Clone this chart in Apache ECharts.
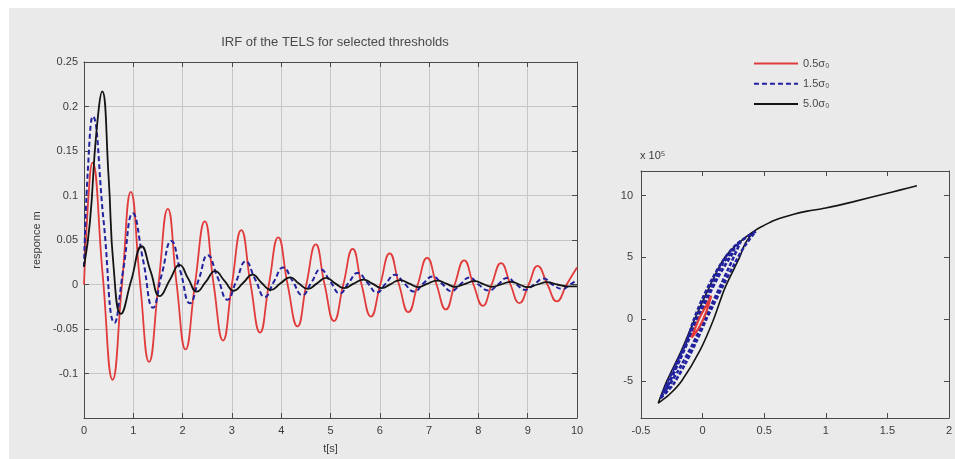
<!DOCTYPE html>
<html>
<head>
<meta charset="utf-8">
<title>IRF of the TELS</title>
<script src="https://cdn.jsdelivr.net/npm/echarts@6/dist/echarts.min.js"></script>
<style>
  html, body { margin: 0; padding: 0; background: #fff; }
  #chart { width: 955px; height: 459px; }
</style>
</head>
<body>
<div id="chart"></div>
<script>
"use strict";

// series names (legend)
var seriesNames = ['0.5σ₀', '1.5σ₀', '5.0σ₀'];

// left plot: impulse response [t, response]
var irfRed = [
	[0, 0.0], [0.08, 0.09], [0.17, 0.137], [0.38, 0.01], [0.58, -0.107], [0.77, 0.0], [0.95, 0.104],
	[1.14, 0.0], [1.32, -0.087], [1.51, 0.0], [1.70, 0.085], [1.88, 0.0], [2.06, -0.073],
	[2.25, 0.0], [2.45, 0.071], [2.63, 0.0], [2.82, -0.063], [3.0, 0.0], [3.19, 0.061],
	[3.38, 0.0], [3.57, -0.054], [3.75, 0.0], [3.94, 0.053], [4.13, 0.0], [4.33, -0.047],
	[4.51, 0.0], [4.70, 0.045], [4.88, 0.0], [5.07, -0.041], [5.26, 0.0], [5.45, 0.040],
	[5.63, 0.0], [5.82, -0.036], [6.01, 0.0], [6.20, 0.035], [6.39, 0.0], [6.58, -0.031],
	[6.77, 0.0], [6.96, 0.030], [7.15, 0.0], [7.34, -0.028], [7.52, 0.0], [7.71, 0.027],
	[7.90, 0.0], [8.09, -0.024], [8.27, 0.0], [8.46, 0.024], [8.65, 0.0], [8.83, -0.021],
	[9.02, 0.0], [9.20, 0.021], [9.40, 0.0], [9.59, -0.019], [9.79, 0.0], [10.0, 0.019]
];
var irfBlue = [
	[0, 0.02], [0.08, 0.13], [0.18, 0.189], [0.40, 0.07], [0.62, -0.043], [0.80, 0.018], [0.99, 0.080],
	[1.20, 0.027], [1.40, -0.026], [1.58, 0.012], [1.77, 0.049], [1.96, 0.014], [2.15, -0.021],
	[2.33, 0.006], [2.51, 0.033], [2.71, 0.008], [2.91, -0.017], [3.09, 0.004], [3.28, 0.026],
	[3.47, 0.006], [3.67, -0.014], [3.85, 0.003], [4.04, 0.019], [4.23, 0.004], [4.43, -0.012],
	[4.61, 0.002], [4.80, 0.017], [5.0, 0.003], [5.19, -0.010], [5.37, 0.002], [5.55, 0.013],
	[5.75, 0.002], [5.94, -0.009], [6.12, 0.001], [6.31, 0.011], [6.50, 0.001], [6.70, -0.008],
	[6.88, 0.001], [7.07, 0.009], [7.26, 0.001], [7.45, -0.0075], [7.63, 0.0], [7.82, 0.008],
	[8.0, 0.0], [8.21, -0.0067], [8.40, 0.0], [8.58, 0.0074], [8.77, 0.0], [8.95, -0.006],
	[9.13, 0.0], [9.32, 0.0067], [9.50, 0.0], [9.71, -0.005], [9.86, 0.0], [10.0, 0.005]
];
var irfBlack = [
	[0, 0.02], [0.12, 0.07], [0.25, 0.17], [0.37, 0.217], [0.50, 0.12], [0.60, 0.02], [0.75, -0.033],
	[0.96, 0.005], [1.17, 0.043], [1.35, 0.015], [1.54, -0.013], [1.74, 0.005], [1.94, 0.022],
	[2.11, 0.007], [2.29, -0.008], [2.47, 0.003], [2.66, 0.015], [2.85, 0.004], [3.04, -0.007],
	[3.23, 0.002], [3.42, 0.011], [3.60, 0.002], [3.79, -0.006], [3.98, 0.001], [4.18, 0.008],
	[4.36, 0.001], [4.54, -0.005], [4.72, 0.001], [4.91, 0.0074], [5.10, 0.001], [5.28, -0.004],
	[5.47, 0.001], [5.67, 0.0055], [5.85, 0.001], [6.04, -0.004], [6.22, 0.0005], [6.41, 0.005],
	[6.60, 0.001], [6.78, -0.003], [6.97, 0.001], [7.16, 0.0044], [7.35, 0.001], [7.53, -0.0026],
	[7.72, 0.0005], [7.92, 0.0037], [8.10, 0.0005], [8.27, -0.0026], [8.46, 0.0], [8.66, 0.003],
	[8.83, 0.0], [9.0, -0.003], [9.20, 0.0], [9.39, 0.0026], [9.60, 0.0], [9.80, -0.002], [10.0, -0.002]
];

// right plot: hysteresis loops [x, y (x 10^5)]
var loopBlack = [
	[1.74, 10.8], [1.6, 10.45], [1.5, 10.2], [1.22, 9.5], [1.0, 9.0], [0.85, 8.75], [0.74, 8.5],
	[0.58, 8.0], [0.5, 7.6], [0.43, 7.2], [0.35, 6.2], [0.30, 5.0], [0.18, 2.5], [0.09, 0.0],
	[-0.02, -2.5], [-0.17, -5.0], [-0.27, -6.1], [-0.36, -6.8], [-0.33, -6.0], [-0.29, -5.0],
	[-0.17, -2.5], [-0.064, 0.0], [0.05, 2.5], [0.18, 5.0], [0.32, 6.4], [0.43, 7.2]
];
var loopBlue = [
	[-0.34, -6.4], [-0.28, -5.0], [-0.21, -3.5], [-0.13, -1.8], [-0.07, 0.0], [0.0, 1.7], [0.08, 3.3],
	[0.17, 4.8], [0.28, 6.1], [0.43, 7.1], [0.34, 5.9], [0.26, 4.5], [0.17, 2.8], [0.08, 1.0],
	[0.03, 0.0], [-0.05, -1.8], [-0.14, -3.6], [-0.24, -5.3], [-0.34, -6.4], [-0.25, -4.6],
	[-0.11, -1.4], [0.03, 1.8], [0.17, 4.6], [0.31, 6.3], [0.21, 4.1], [0.06, 0.9], [-0.09, -2.2],
	[-0.20, -4.2], [-0.30, -5.8], [-0.18, -3.2], [-0.03, 0.2], [0.12, 3.3], [0.26, 5.6]
];
var loopRed = [
	[-0.09, -1.5], [-0.03, 0.0], [0.04, 1.3], [0.07, 1.9], [0.03, 0.6], [-0.03, -0.7], [-0.09, -1.5]
];

// tick labels of the right plot's y axis
var loopYTicks = [-5, 0, 5, 10];

var chartColors = ['#e23b3b', '#22229e', '#141414'];
var labelFont = "'Liberation Sans', Arial, sans-serif";

var myChart = echarts.init(document.getElementById('chart'), null, { renderer: 'canvas' });

function boxAxis(gridIndex, position, opts) {
	var axis = {
		type: 'value',
		gridIndex: gridIndex,
		position: position,
		axisLine: { show: true, onZero: false, lineStyle: { color: '#4a4a4a', width: 1 } },
		axisTick: { show: true, inside: true, length: 5, lineStyle: { color: '#4a4a4a' } },
		axisLabel: { show: false },
		splitLine: { show: false }
	};
	for (var k in opts) {
		axis[k] = opts[k];
	}
	return axis;
}

var tickLabel = { show: true, color: '#3c3c3c', fontSize: 11, fontFamily: labelFont, margin: 7 };
var gridLine = { show: true, lineStyle: { color: '#c6c6c6', width: 1 } };

var option = {
	backgroundColor: '#ffffff',
	animation: false,
	graphic: [{
		type: 'rect',
		z: -10,
		shape: { x: 9, y: 8, width: 946, height: 451 },
		style: { fill: '#eaeaea' }
	}, {
		type: 'text',
		left: 640,
		top: 150,
		style: { text: 'x 10⁵', fill: '#3c3c3c', font: '11px ' + labelFont }
	}],
	title: {
		text: 'IRF of the TELS for selected thresholds',
		left: 330,
		top: 31,
		textAlign: 'center',
		textStyle: { color: '#4a4a4a', fontSize: 13, fontWeight: 'normal', fontFamily: "'Liberation Sans Narrow', " + labelFont }
	},
	legend: {
		data: seriesNames,
		orient: 'vertical',
		left: 748,
		top: 53,
		itemWidth: 44,
		itemHeight: 14,
		itemGap: 9,
		itemStyle: { opacity: 0 },
		textStyle: { color: '#4a4a4a', fontSize: 11, fontFamily: labelFont }
	},
	grid: [
		{ left: 84, top: 62, width: 493, height: 360, show: true, backgroundColor: '#ececec', borderWidth: 0 },
		{ left: 641, top: 171, width: 312, height: 247, show: true, backgroundColor: '#ececec', borderWidth: 0 }
	],
	xAxis: [
		boxAxis(0, 'bottom', {
			min: 0, max: 10, interval: 1,
			axisLabel: tickLabel,
			splitLine: gridLine,
			name: 't[s]', nameLocation: 'middle', nameGap: 25,
			nameTextStyle: { color: '#3c3c3c', fontSize: 11, fontFamily: labelFont }
		}),
		boxAxis(0, 'top', { min: 0, max: 10, interval: 1 }),
		boxAxis(1, 'bottom', { min: -0.5, max: 2, interval: 0.5, axisLabel: tickLabel }),
		boxAxis(1, 'top', { min: -0.5, max: 2, interval: 0.5 })
	],
	yAxis: [
		boxAxis(0, 'left', {
			min: -0.15, max: 0.25, interval: 0.05,
			axisLabel: { show: true, color: '#3c3c3c', fontSize: 11, fontFamily: labelFont, margin: 6, showMinLabel: false },
			splitLine: gridLine,
			name: 'responce m', nameLocation: 'middle', nameGap: 42, nameRotate: 90,
			nameTextStyle: { color: '#3c3c3c', fontSize: 11, fontFamily: labelFont }
		}),
		boxAxis(0, 'right', { min: -0.15, max: 0.25, interval: 0.05 }),
		boxAxis(1, 'left', {
			min: -8, max: 12,
			axisLabel: { show: true, color: '#3c3c3c', fontSize: 11, fontFamily: labelFont, margin: 8, customValues: loopYTicks },
			axisTick: { show: true, inside: true, length: 5, lineStyle: { color: '#4a4a4a' }, customValues: loopYTicks }
		}),
		boxAxis(1, 'right', {
			min: -8, max: 12,
			axisTick: { show: true, inside: true, length: 5, lineStyle: { color: '#4a4a4a' }, customValues: loopYTicks }
		})
	],
	series: [{
		name: seriesNames[0], type: 'line', xAxisIndex: 0, yAxisIndex: 0, data: irfRed,
		smooth: 0.5, symbol: 'none', z: 2,
		lineStyle: { color: chartColors[0], width: 1.8 }, itemStyle: { color: chartColors[0] }
	}, {
		name: seriesNames[1], type: 'line', xAxisIndex: 0, yAxisIndex: 0, data: irfBlue,
		smooth: 0.5, symbol: 'none', z: 3,
		lineStyle: { color: chartColors[1], width: 2, type: [5, 3] }, itemStyle: { color: chartColors[1] }
	}, {
		name: seriesNames[2], type: 'line', xAxisIndex: 0, yAxisIndex: 0, data: irfBlack,
		smooth: 0.5, symbol: 'none', z: 4,
		lineStyle: { color: chartColors[2], width: 1.8 }, itemStyle: { color: chartColors[2] }
	}, {
		name: seriesNames[2], type: 'line', xAxisIndex: 2, yAxisIndex: 2, data: loopBlack,
		smooth: 0.3, symbol: 'none', z: 2,
		lineStyle: { color: chartColors[2], width: 1.6 }, itemStyle: { color: chartColors[2] }
	}, {
		name: seriesNames[1], type: 'line', xAxisIndex: 2, yAxisIndex: 2, data: loopBlue,
		smooth: 0.3, symbol: 'none', z: 3,
		lineStyle: { color: chartColors[1], width: 2.6, type: [4, 2] }, itemStyle: { color: chartColors[1] }
	}, {
		name: seriesNames[0], type: 'line', xAxisIndex: 2, yAxisIndex: 2, data: loopRed,
		smooth: 0.3, symbol: 'none', z: 4,
		lineStyle: { color: chartColors[0], width: 2.2 }, itemStyle: { color: chartColors[0] }
	}]
};

myChart.setOption(option);
</script>
</body>
</html>
